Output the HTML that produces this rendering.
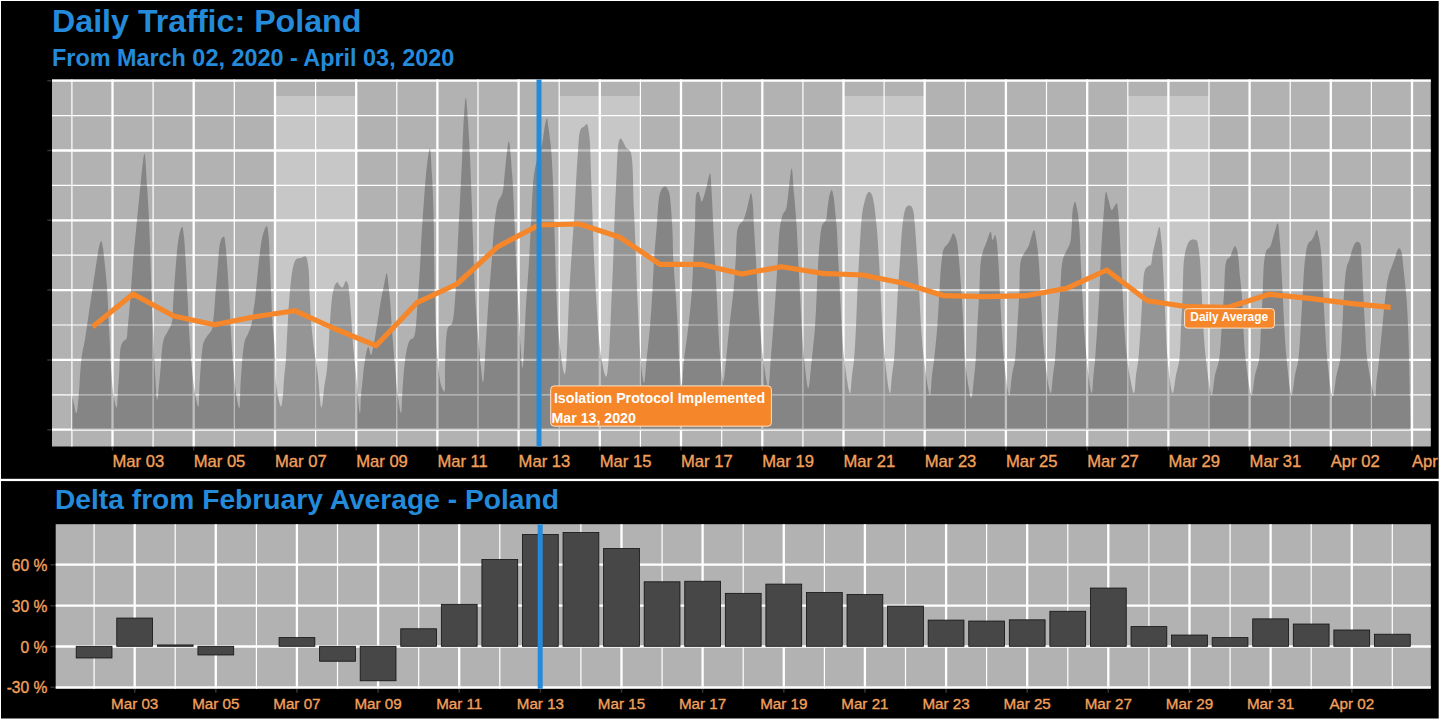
<!DOCTYPE html>
<html><head><meta charset="utf-8"><title>Daily Traffic: Poland</title>
<style>
html,body{margin:0;padding:0;background:#fff;}
body{width:1440px;height:720px;overflow:hidden;position:relative;}
svg{position:absolute;left:0;top:0;display:block;}
text{font-family:"Liberation Sans",sans-serif;}
.ax{stroke:#f2a05c;stroke-width:0.35px;paint-order:stroke;}
</style></head>
<body>
<svg width="1440" height="720" viewBox="0 0 1440 720">
<rect x="0" y="0" width="1440" height="720" fill="#fff"/>
<rect x="1" y="1" width="1437.7" height="477.8" fill="#000"/>
<rect x="1" y="481.1" width="1437.7" height="237.4" fill="#000"/>
<defs><clipPath id="c1"><rect x="1" y="1" width="1437.7" height="477.8"/><rect x="1" y="481.1" width="1437.7" height="237.4"/></clipPath></defs>
<g clip-path="url(#c1)">
<rect x="52" y="79.5" width="1378.8" height="367" fill="#b2b2b2"/>
<line x1="52" x2="1430.8" y1="429.7" y2="429.7" stroke="#fff" stroke-width="2.3"/>
<line x1="52" x2="1430.8" y1="394.8" y2="394.8" stroke="#fff" stroke-width="1.2"/>
<line x1="52" x2="1430.8" y1="359.9" y2="359.9" stroke="#fff" stroke-width="2.3"/>
<line x1="52" x2="1430.8" y1="325.0" y2="325.0" stroke="#fff" stroke-width="1.2"/>
<line x1="52" x2="1430.8" y1="290.1" y2="290.1" stroke="#fff" stroke-width="2.3"/>
<line x1="52" x2="1430.8" y1="255.2" y2="255.2" stroke="#fff" stroke-width="1.2"/>
<line x1="52" x2="1430.8" y1="220.3" y2="220.3" stroke="#fff" stroke-width="2.3"/>
<line x1="52" x2="1430.8" y1="185.4" y2="185.4" stroke="#fff" stroke-width="1.2"/>
<line x1="52" x2="1430.8" y1="150.5" y2="150.5" stroke="#fff" stroke-width="2.3"/>
<line x1="52" x2="1430.8" y1="115.6" y2="115.6" stroke="#fff" stroke-width="1.2"/>
<line x1="52" x2="1430.8" y1="80.7" y2="80.7" stroke="#fff" stroke-width="2.3"/>
<line x1="71.9" x2="71.9" y1="79.5" y2="446.5" stroke="#fff" stroke-width="1.2"/>
<line x1="112.5" x2="112.5" y1="79.5" y2="446.5" stroke="#fff" stroke-width="2.3"/>
<line x1="153.1" x2="153.1" y1="79.5" y2="446.5" stroke="#fff" stroke-width="1.2"/>
<line x1="193.7" x2="193.7" y1="79.5" y2="446.5" stroke="#fff" stroke-width="2.3"/>
<line x1="234.3" x2="234.3" y1="79.5" y2="446.5" stroke="#fff" stroke-width="1.2"/>
<line x1="275.0" x2="275.0" y1="79.5" y2="446.5" stroke="#fff" stroke-width="2.3"/>
<line x1="315.6" x2="315.6" y1="79.5" y2="446.5" stroke="#fff" stroke-width="1.2"/>
<line x1="356.2" x2="356.2" y1="79.5" y2="446.5" stroke="#fff" stroke-width="2.3"/>
<line x1="396.8" x2="396.8" y1="79.5" y2="446.5" stroke="#fff" stroke-width="1.2"/>
<line x1="437.4" x2="437.4" y1="79.5" y2="446.5" stroke="#fff" stroke-width="2.3"/>
<line x1="478.0" x2="478.0" y1="79.5" y2="446.5" stroke="#fff" stroke-width="1.2"/>
<line x1="518.6" x2="518.6" y1="79.5" y2="446.5" stroke="#fff" stroke-width="2.3"/>
<line x1="559.2" x2="559.2" y1="79.5" y2="446.5" stroke="#fff" stroke-width="1.2"/>
<line x1="599.8" x2="599.8" y1="79.5" y2="446.5" stroke="#fff" stroke-width="2.3"/>
<line x1="640.4" x2="640.4" y1="79.5" y2="446.5" stroke="#fff" stroke-width="1.2"/>
<line x1="681.0" x2="681.0" y1="79.5" y2="446.5" stroke="#fff" stroke-width="2.3"/>
<line x1="721.7" x2="721.7" y1="79.5" y2="446.5" stroke="#fff" stroke-width="1.2"/>
<line x1="762.3" x2="762.3" y1="79.5" y2="446.5" stroke="#fff" stroke-width="2.3"/>
<line x1="802.9" x2="802.9" y1="79.5" y2="446.5" stroke="#fff" stroke-width="1.2"/>
<line x1="843.5" x2="843.5" y1="79.5" y2="446.5" stroke="#fff" stroke-width="2.3"/>
<line x1="884.1" x2="884.1" y1="79.5" y2="446.5" stroke="#fff" stroke-width="1.2"/>
<line x1="924.7" x2="924.7" y1="79.5" y2="446.5" stroke="#fff" stroke-width="2.3"/>
<line x1="965.3" x2="965.3" y1="79.5" y2="446.5" stroke="#fff" stroke-width="1.2"/>
<line x1="1005.9" x2="1005.9" y1="79.5" y2="446.5" stroke="#fff" stroke-width="2.3"/>
<line x1="1046.5" x2="1046.5" y1="79.5" y2="446.5" stroke="#fff" stroke-width="1.2"/>
<line x1="1087.2" x2="1087.2" y1="79.5" y2="446.5" stroke="#fff" stroke-width="2.3"/>
<line x1="1127.8" x2="1127.8" y1="79.5" y2="446.5" stroke="#fff" stroke-width="1.2"/>
<line x1="1168.4" x2="1168.4" y1="79.5" y2="446.5" stroke="#fff" stroke-width="2.3"/>
<line x1="1209.0" x2="1209.0" y1="79.5" y2="446.5" stroke="#fff" stroke-width="1.2"/>
<line x1="1249.6" x2="1249.6" y1="79.5" y2="446.5" stroke="#fff" stroke-width="2.3"/>
<line x1="1290.2" x2="1290.2" y1="79.5" y2="446.5" stroke="#fff" stroke-width="1.2"/>
<line x1="1330.8" x2="1330.8" y1="79.5" y2="446.5" stroke="#fff" stroke-width="2.3"/>
<line x1="1371.4" x2="1371.4" y1="79.5" y2="446.5" stroke="#fff" stroke-width="1.2"/>
<line x1="1412.0" x2="1412.0" y1="79.5" y2="446.5" stroke="#fff" stroke-width="2.3"/>
<rect x="275.0" y="96" width="81.2" height="333.7" fill="#fff" fill-opacity="0.28"/>
<rect x="559.2" y="96" width="81.2" height="333.7" fill="#fff" fill-opacity="0.28"/>
<rect x="843.5" y="96" width="81.2" height="333.7" fill="#fff" fill-opacity="0.28"/>
<rect x="1127.8" y="96" width="81.2" height="333.7" fill="#fff" fill-opacity="0.28"/>
<path d="M72,429.7 L72.0,395.0 C72.00,395.00 73.29,400.98 74.00,404.00 C74.72,407.08 75.61,413.34 76.30,413.30 C77.21,413.25 77.95,402.96 78.60,396.70 C79.43,388.63 79.85,376.57 80.50,368.90 C80.96,363.47 81.20,359.62 81.90,355.00 C82.60,350.35 83.75,346.54 84.70,341.10 C86.04,333.44 87.42,322.56 88.80,313.30 C90.18,304.06 91.60,294.84 93.00,285.60 C94.40,276.34 95.96,265.29 97.20,257.80 C98.04,252.71 98.56,247.99 99.50,245.00 C100.04,243.28 100.77,241.05 101.30,241.10 C101.98,241.17 102.55,245.48 103.00,248.00 C103.53,250.97 103.66,253.70 104.10,257.80 C104.84,264.70 106.20,276.33 106.90,285.60 C107.60,294.83 107.83,304.06 108.30,313.30 C108.77,322.56 109.23,331.83 109.70,341.10 C110.17,350.37 110.42,359.64 111.10,368.90 C111.78,378.17 112.56,389.56 113.80,396.70 C114.59,401.27 115.92,407.86 116.60,407.80 C117.45,407.73 117.55,396.11 118.00,390.00 C118.48,383.53 118.95,376.92 119.40,370.00 C119.89,362.53 119.45,351.72 120.80,346.70 C121.50,344.10 122.50,342.44 123.60,341.10 C124.41,340.11 125.63,340.19 126.30,339.00 C127.55,336.78 127.25,331.30 127.70,327.20 C128.19,322.76 128.61,318.73 129.10,313.30 C129.79,305.65 130.60,294.84 131.30,285.60 C132.00,276.34 132.52,267.06 133.30,257.80 C134.08,248.53 135.07,239.44 136.00,230.00 C136.97,220.19 138.05,209.54 139.00,200.00 C139.87,191.29 140.54,182.99 141.50,175.00 C142.39,167.61 143.64,153.67 144.50,153.70 C145.54,153.73 146.28,174.59 147.00,185.00 C147.71,195.35 148.26,204.76 148.80,216.00 C149.45,229.38 150.00,245.50 150.50,260.00 C150.99,274.16 151.28,288.35 151.80,302.00 C152.29,314.99 152.92,327.59 153.50,340.00 C154.06,351.91 154.49,364.32 155.20,375.00 C155.80,384.04 156.58,399.99 157.30,400.00 C157.86,400.01 158.46,390.25 159.00,385.00 C159.60,379.21 160.14,373.06 160.70,366.70 C161.31,359.78 161.60,350.44 162.50,345.00 C163.05,341.65 163.63,339.11 164.50,337.00 C165.13,335.48 165.97,334.59 166.70,333.30 C167.47,331.93 168.22,330.54 169.00,329.00 C169.89,327.24 171.01,325.93 171.70,323.30 C173.02,318.24 172.70,308.46 173.30,300.00 C174.01,289.89 174.81,277.18 175.70,266.70 C176.50,257.30 177.24,246.73 178.30,240.00 C178.96,235.84 179.61,232.39 180.50,230.00 C181.04,228.55 181.81,226.62 182.30,226.70 C183.04,226.82 183.39,231.82 183.80,235.00 C184.35,239.25 184.57,243.54 185.00,250.00 C185.79,261.79 186.94,285.02 187.70,300.00 C188.32,312.22 188.63,322.20 189.30,333.30 C189.97,344.43 190.67,356.24 191.70,366.70 C192.62,376.00 193.66,385.68 195.00,393.00 C195.97,398.34 197.55,406.77 198.30,406.70 C199.24,406.62 199.08,391.92 199.50,385.00 C199.88,378.64 200.26,372.46 200.70,366.70 C201.10,361.53 201.49,356.25 202.00,352.00 C202.39,348.72 202.45,345.94 203.30,343.30 C204.08,340.88 205.35,338.85 206.70,336.70 C208.13,334.41 210.56,332.73 211.70,330.00 C213.07,326.72 212.99,322.41 213.50,318.00 C214.13,312.62 214.43,306.92 215.00,300.00 C215.77,290.59 216.79,276.82 217.70,266.70 C218.46,258.21 218.84,248.28 220.00,243.30 C220.57,240.85 221.11,239.10 222.00,238.00 C222.57,237.29 223.47,236.47 224.00,236.70 C224.99,237.13 225.05,241.57 225.50,245.00 C226.23,250.51 226.73,258.69 227.30,266.70 C228.01,276.61 228.68,288.90 229.30,300.00 C229.92,311.10 230.33,322.19 231.00,333.30 C231.67,344.43 232.41,356.21 233.30,366.70 C234.10,376.08 234.79,385.72 236.00,393.30 C236.92,399.04 238.55,408.36 239.30,408.30 C240.23,408.22 240.07,392.30 240.50,385.00 C240.88,378.53 241.22,372.66 241.70,366.70 C242.16,361.00 242.66,354.85 243.30,350.00 C243.80,346.23 244.05,342.94 245.00,340.00 C245.82,337.48 247.27,335.79 248.30,333.30 C249.53,330.33 250.85,326.92 251.70,323.30 C252.66,319.22 252.91,314.12 253.50,310.00 C254.01,306.43 254.46,304.32 255.00,300.00 C255.98,292.15 257.11,277.18 258.30,266.70 C259.36,257.30 260.46,246.51 261.70,240.00 C262.43,236.18 263.02,233.51 264.00,231.00 C264.77,229.04 265.99,225.89 266.70,226.00 C267.60,226.14 268.03,231.25 268.50,235.00 C269.26,241.09 269.31,250.65 269.70,259.20 C270.14,268.85 270.54,279.50 271.00,290.00 C271.48,300.98 271.81,313.76 272.50,323.70 C273.05,331.62 274.04,338.55 274.50,345.00 C274.88,350.35 275.01,354.47 275.20,359.70 C275.42,365.70 275.23,372.91 275.70,379.00 C276.12,384.51 276.72,389.87 277.70,394.70 C278.56,398.95 280.11,406.55 281.00,406.50 C281.88,406.45 282.51,398.93 283.00,394.70 C283.56,389.85 283.55,384.50 284.00,379.00 C284.49,372.89 285.46,365.70 285.90,359.70 C286.28,354.47 286.32,350.59 286.60,345.00 C286.98,337.56 287.47,327.68 288.00,319.00 C288.53,310.28 288.94,301.54 289.80,292.80 C290.67,284.00 291.55,272.41 293.20,266.40 C294.11,263.09 294.80,260.32 296.40,259.00 C297.62,257.99 299.48,258.41 301.00,258.00 C302.54,257.58 304.44,255.87 305.60,256.50 C307.29,257.41 307.64,262.26 308.30,266.40 C309.36,273.04 309.17,284.02 309.60,292.80 C310.03,301.55 310.25,310.25 310.90,319.00 C311.55,327.82 312.40,336.68 313.50,345.50 C314.60,354.35 316.25,362.51 317.50,372.00 C318.94,382.96 320.21,407.49 321.50,407.50 C322.53,407.51 323.52,391.47 324.50,385.00 C325.25,380.07 326.09,377.11 326.70,372.00 C327.57,364.74 328.02,354.33 328.60,345.50 C329.18,336.67 329.50,327.80 330.20,319.00 C330.90,310.24 331.52,299.16 332.80,292.80 C333.56,289.04 334.44,285.76 335.50,284.00 C336.06,283.08 336.67,282.15 337.30,282.20 C338.15,282.27 339.01,285.09 340.00,286.00 C340.78,286.72 341.71,287.72 342.50,287.50 C343.76,287.15 344.96,281.05 346.00,281.00 C346.73,280.97 347.49,282.66 348.00,284.00 C348.79,286.10 348.80,289.08 349.20,292.80 C349.89,299.20 350.65,310.24 351.30,319.00 C351.95,327.81 352.35,336.67 353.10,345.50 C353.85,354.34 354.80,362.19 355.80,372.00 C357.05,384.25 359.14,413.32 360.00,413.30 C360.57,413.29 360.55,400.42 361.00,395.00 C361.36,390.66 361.78,387.86 362.30,383.30 C363.03,376.86 363.79,366.65 365.00,360.00 C365.92,354.92 367.18,346.74 368.30,346.70 C369.19,346.67 370.16,355.03 371.00,355.00 C371.91,354.97 372.74,348.48 373.50,345.00 C374.32,341.26 374.85,338.20 375.70,333.30 C377.13,325.05 379.40,308.90 381.00,300.00 C382.08,294.00 382.99,289.68 384.00,285.00 C384.89,280.85 385.95,273.27 386.70,273.30 C387.45,273.33 387.97,280.85 388.50,285.00 C389.09,289.68 389.49,294.01 390.00,300.00 C390.75,308.91 391.47,322.19 392.30,333.30 C393.13,344.43 394.00,355.58 395.00,366.70 C396.00,377.81 397.01,391.43 398.30,400.00 C399.12,405.46 400.32,413.35 401.00,413.30 C401.89,413.24 401.95,397.76 402.50,390.00 C403.05,382.23 403.52,373.81 404.30,366.70 C404.97,360.66 405.57,354.81 406.70,350.00 C407.59,346.20 408.45,341.94 410.00,340.00 C410.94,338.82 412.48,339.00 413.30,338.00 C414.23,336.86 414.49,335.63 415.00,333.30 C416.31,327.28 416.87,311.10 417.70,300.00 C418.53,288.90 419.33,277.81 420.00,266.70 C420.67,255.58 421.03,244.42 421.70,233.30 C422.37,222.19 423.13,211.23 424.00,200.00 C424.89,188.47 425.77,174.51 427.00,165.00 C427.86,158.39 429.11,148.26 429.90,148.30 C430.89,148.35 431.43,165.40 432.00,175.00 C432.67,186.21 433.13,198.08 433.50,211.50 C433.96,228.00 434.01,250.61 434.30,266.70 C434.52,279.20 434.72,288.90 435.00,300.00 C435.28,311.10 435.45,322.20 436.00,333.30 C436.55,344.43 437.28,357.25 438.30,366.70 C439.06,373.73 439.59,380.48 441.00,385.00 C441.89,387.87 443.54,391.87 444.30,391.70 C445.68,391.40 444.65,375.63 445.00,366.70 C445.41,356.37 445.71,340.12 446.70,333.30 C447.15,330.22 447.28,328.30 448.30,326.70 C449.12,325.42 450.77,325.64 451.70,324.00 C453.91,320.13 454.18,308.67 455.00,300.00 C455.96,289.83 456.15,277.81 456.70,266.70 C457.25,255.58 457.75,244.42 458.30,233.30 C458.85,222.19 459.41,211.61 460.00,200.00 C460.64,187.28 461.35,173.73 462.00,160.00 C462.69,145.44 463.15,126.51 464.00,115.00 C464.53,107.80 465.19,97.50 465.80,97.50 C466.46,97.50 467.17,109.84 467.80,118.00 C468.72,130.06 469.60,147.75 470.30,162.90 C471.01,178.41 471.44,194.05 472.00,210.00 C472.58,226.47 473.03,243.50 473.70,260.20 C474.37,276.84 475.07,295.13 476.00,310.00 C476.76,322.08 477.71,332.59 478.60,342.80 C479.38,351.76 480.16,360.76 481.00,368.00 C481.64,373.50 482.36,382.52 483.00,382.50 C484.09,382.46 485.10,353.48 486.00,340.00 C486.82,327.77 487.33,317.26 488.20,305.00 C489.17,291.40 490.47,276.33 491.60,262.00 C492.73,247.67 493.59,230.04 495.00,219.00 C495.89,212.02 496.47,206.69 498.00,202.00 C499.16,198.43 501.34,196.58 502.40,193.00 C503.79,188.32 503.67,182.65 504.50,176.00 C505.68,166.53 507.50,141.59 508.80,141.60 C510.10,141.61 511.39,163.88 512.30,176.00 C513.32,189.52 513.77,204.67 514.40,219.00 C515.03,233.33 515.45,247.67 516.10,262.00 C516.75,276.34 517.55,290.93 518.30,305.00 C519.02,318.58 519.66,333.51 520.50,345.00 C521.14,353.73 521.91,368.01 522.60,368.00 C523.75,367.98 524.82,324.00 526.00,305.00 C526.97,289.30 528.13,276.34 529.00,262.00 C529.87,247.67 530.40,233.33 531.20,219.00 C532.00,204.66 532.40,186.83 533.80,176.00 C534.66,169.34 535.75,164.38 537.00,160.00 C537.90,156.83 539.10,154.97 540.00,152.00 C541.08,148.44 542.05,144.02 542.80,140.00 C543.55,136.02 543.77,131.77 544.50,128.00 C545.16,124.58 546.23,118.27 546.90,118.30 C547.56,118.33 547.94,124.14 548.50,128.00 C549.32,133.66 550.42,141.55 551.10,149.00 C551.87,157.42 552.21,165.45 552.70,176.00 C553.39,190.91 553.94,212.35 554.50,230.00 C555.04,246.99 555.35,263.09 556.00,280.00 C556.67,297.41 556.86,316.46 558.50,333.00 C559.96,347.69 563.10,374.48 564.80,374.40 C567.29,374.28 567.99,312.90 569.70,284.50 C571.24,258.90 573.08,234.47 574.50,211.50 C575.77,190.98 576.55,168.43 577.90,153.20 C578.78,143.34 578.57,132.64 580.80,128.90 C581.72,127.36 583.19,127.35 584.20,126.50 C585.13,125.71 586.00,123.80 586.70,124.00 C587.88,124.33 588.44,129.18 589.10,133.80 C590.63,144.43 590.63,166.75 591.50,187.20 C592.67,214.80 593.58,254.42 595.40,284.50 C596.98,310.57 598.57,340.94 601.30,357.40 C602.73,366.01 604.79,376.93 606.20,376.80 C609.23,376.52 610.58,315.68 612.20,284.50 C613.86,252.51 614.26,214.04 616.00,187.20 C617.23,168.20 617.02,139.44 620.40,138.60 C622.05,138.19 624.74,146.22 626.70,148.30 C627.88,149.56 629.13,149.03 630.10,150.80 C633.78,157.52 632.82,188.88 634.00,211.50 C635.49,240.12 636.51,280.50 637.90,308.80 C638.98,330.71 639.79,353.79 641.30,367.10 C642.10,374.09 643.19,383.02 644.00,383.00 C644.97,382.97 645.60,368.37 646.50,360.00 C647.58,349.92 649.03,337.84 650.00,326.70 C650.97,315.51 651.63,304.18 652.30,293.00 C652.96,281.95 653.27,271.02 654.00,260.00 C654.73,248.92 655.70,237.83 656.70,226.70 C657.70,215.50 658.04,199.36 660.00,193.00 C660.84,190.26 661.84,188.53 663.00,187.50 C663.76,186.82 664.74,186.28 665.50,186.50 C666.46,186.78 667.35,188.84 668.00,190.00 C668.57,191.01 668.90,191.41 669.30,193.00 C670.60,198.12 671.63,215.49 672.30,226.70 C672.96,237.82 672.73,248.93 673.30,260.00 C673.87,271.03 674.97,281.94 675.70,293.00 C676.44,304.17 677.10,315.50 677.70,326.70 C678.30,337.83 678.56,349.70 679.30,360.00 C679.94,368.94 680.92,385.00 681.70,385.00 C682.48,385.00 683.01,368.92 684.00,360.00 C685.14,349.68 687.02,337.84 688.30,326.70 C689.59,315.51 690.87,304.19 691.70,293.00 C692.52,281.95 692.75,271.02 693.30,260.00 C693.85,248.92 694.44,237.83 695.00,226.70 C695.57,215.50 694.86,196.63 696.70,193.00 C697.16,192.10 697.83,191.58 698.30,191.70 C699.01,191.88 699.46,194.45 700.00,196.00 C700.61,197.75 701.04,201.67 701.70,201.70 C702.37,201.73 703.25,198.24 704.00,196.00 C705.03,192.96 706.01,188.73 707.00,185.00 C708.01,181.16 709.24,173.24 710.00,173.30 C710.97,173.38 711.20,185.55 711.70,193.00 C712.35,202.73 712.75,215.50 713.30,226.70 C713.85,237.83 714.43,248.93 715.00,260.00 C715.57,271.02 716.15,281.94 716.70,293.00 C717.25,304.17 717.72,315.96 718.30,326.70 C718.83,336.55 719.15,345.72 720.00,355.00 C720.83,364.04 722.25,381.70 723.30,381.70 C724.24,381.70 725.10,368.01 726.00,360.00 C727.11,350.09 728.09,337.83 729.30,326.70 C730.52,315.49 732.23,304.19 733.30,293.00 C734.36,281.95 734.87,271.02 735.70,260.00 C736.54,248.92 735.79,233.38 738.30,226.70 C739.56,223.36 741.94,222.58 743.30,220.00 C744.82,217.10 745.75,213.36 746.70,210.00 C747.64,206.69 748.22,203.03 749.00,200.00 C749.66,197.45 750.41,192.98 751.00,193.00 C751.58,193.02 752.08,196.89 752.50,200.00 C753.31,206.01 753.45,217.31 754.00,226.70 C754.61,237.19 755.38,248.90 756.00,260.00 C756.62,271.10 757.03,282.19 757.70,293.30 C758.37,304.43 759.07,315.58 760.00,326.70 C760.93,337.82 761.81,349.54 763.30,360.00 C764.65,369.42 767.07,386.76 768.30,386.70 C769.53,386.64 769.91,369.39 770.70,360.00 C771.58,349.51 772.47,337.81 773.30,326.70 C774.13,315.58 774.97,304.43 775.70,293.30 C776.43,282.19 776.98,271.10 777.70,260.00 C778.42,248.90 778.66,235.27 780.00,226.70 C780.86,221.19 781.96,216.18 783.30,213.30 C784.03,211.73 785.02,211.64 785.70,210.00 C787.08,206.66 787.57,198.75 788.30,193.30 C788.99,188.10 789.35,182.51 790.00,178.00 C790.52,174.39 791.17,168.28 791.70,168.30 C792.55,168.33 793.23,184.36 794.00,193.30 C794.89,203.63 795.98,215.57 796.70,226.70 C797.42,237.80 797.75,248.90 798.30,260.00 C798.85,271.10 799.43,282.19 800.00,293.30 C800.57,304.42 800.98,315.58 801.70,326.70 C802.42,337.81 803.13,349.37 804.30,360.00 C805.38,369.83 807.07,388.31 808.30,388.30 C809.53,388.29 810.62,369.82 811.70,360.00 C812.87,349.36 814.17,337.82 815.00,326.70 C815.83,315.58 816.15,304.43 816.70,293.30 C817.25,282.19 817.47,271.09 818.30,260.00 C819.13,248.89 820.22,232.02 821.70,226.70 C822.19,224.92 822.62,224.38 823.30,223.30 C824.03,222.14 825.34,221.52 826.00,220.00 C827.01,217.66 826.75,213.75 827.30,210.00 C828.01,205.14 828.89,196.67 830.00,193.30 C830.52,191.72 831.18,189.95 831.70,190.00 C832.38,190.06 833.01,193.55 833.50,196.00 C834.24,199.67 834.49,205.13 835.00,210.00 C835.56,215.32 836.21,220.17 836.70,226.70 C837.39,235.90 837.75,248.90 838.30,260.00 C838.85,271.10 839.43,282.19 840.00,293.30 C840.57,304.42 840.98,315.58 841.70,326.70 C842.42,337.81 842.92,348.93 844.30,360.00 C845.68,371.13 848.67,393.34 850.00,393.30 C850.98,393.27 851.30,380.79 852.00,375.00 C852.64,369.75 853.42,366.00 854.00,360.00 C854.86,351.10 855.45,337.81 856.00,326.70 C856.55,315.58 856.80,304.42 857.30,293.30 C857.80,282.19 858.38,271.10 859.00,260.00 C859.62,248.90 860.26,235.90 861.00,226.70 C861.53,220.18 861.90,214.84 862.70,210.00 C863.32,206.22 864.19,202.89 865.00,200.00 C865.64,197.73 866.10,195.46 867.00,194.00 C867.65,192.95 868.55,191.69 869.30,191.70 C870.05,191.71 870.89,192.96 871.50,194.00 C872.35,195.46 872.72,197.25 873.30,200.00 C874.51,205.69 875.78,217.29 876.70,226.70 C877.73,237.17 878.33,248.90 879.00,260.00 C879.67,271.10 880.15,282.19 880.70,293.30 C881.25,304.42 881.58,315.58 882.30,326.70 C883.02,337.81 883.72,348.92 885.00,360.00 C886.28,371.12 888.77,393.32 890.00,393.30 C890.91,393.28 891.30,380.79 892.00,375.00 C892.64,369.75 893.42,366.00 894.00,360.00 C894.86,351.10 895.38,337.81 896.00,326.70 C896.62,315.58 897.03,304.42 897.70,293.30 C898.37,282.19 899.23,271.10 900.00,260.00 C900.77,248.90 901.24,235.88 902.30,226.70 C903.05,220.16 903.89,213.37 905.00,210.00 C905.52,208.42 905.94,207.46 906.70,206.70 C907.33,206.06 908.20,205.53 909.00,205.50 C909.86,205.47 911.00,205.93 911.70,206.70 C912.67,207.76 913.01,209.76 913.50,212.00 C914.29,215.64 914.50,220.81 915.00,226.70 C915.76,235.56 916.58,248.90 917.30,260.00 C918.02,271.10 918.68,282.19 919.30,293.30 C919.92,304.42 920.22,315.58 921.00,326.70 C921.78,337.82 922.54,348.79 924.00,360.00 C925.51,371.55 928.64,395.05 930.00,395.00 C931.03,394.96 931.28,381.18 932.00,375.00 C932.63,369.64 933.30,365.99 934.00,360.00 C935.04,351.09 936.42,337.82 937.30,326.70 C938.18,315.58 938.57,304.42 939.30,293.30 C940.03,282.19 940.60,268.24 941.70,260.00 C942.36,255.08 942.57,251.25 944.00,248.30 C945.07,246.11 947.12,245.07 948.30,243.30 C949.42,241.62 950.14,239.72 951.00,238.00 C951.80,236.39 952.47,233.30 953.30,233.30 C954.28,233.30 955.65,237.08 956.50,240.00 C957.91,244.81 958.23,252.18 959.00,260.00 C960.09,271.03 961.12,288.29 961.90,300.00 C962.51,309.16 962.92,315.59 963.40,324.50 C963.97,335.17 964.22,350.11 965.00,359.70 C965.55,366.37 966.05,370.65 967.00,376.60 C968.07,383.33 970.11,398.04 971.30,398.00 C972.48,397.96 973.34,383.32 974.10,376.60 C974.77,370.64 975.23,366.27 975.70,359.70 C976.36,350.53 976.70,337.73 977.30,326.70 C977.90,315.60 978.68,304.43 979.30,293.30 C979.92,282.19 979.75,268.22 981.00,260.00 C981.75,255.06 982.90,251.61 984.00,248.30 C984.84,245.75 985.93,243.83 986.70,241.70 C987.41,239.75 987.79,237.74 988.50,236.00 C989.14,234.44 990.07,231.62 990.70,231.70 C991.54,231.80 991.87,239.92 992.70,240.00 C993.36,240.06 994.36,234.96 995.00,235.00 C995.62,235.04 996.07,237.75 996.50,240.00 C997.35,244.42 997.77,252.48 998.30,260.00 C998.98,269.69 999.43,282.19 1000.00,293.30 C1000.57,304.42 1001.03,315.58 1001.70,326.70 C1002.37,337.81 1002.77,348.79 1004.00,360.00 C1005.27,371.55 1007.86,395.01 1009.30,395.00 C1010.39,394.99 1010.97,381.17 1012.00,375.00 C1012.90,369.63 1014.19,366.01 1015.00,360.00 C1016.19,351.11 1016.58,337.81 1017.30,326.70 C1018.02,315.58 1018.68,304.43 1019.30,293.30 C1019.92,282.19 1019.14,267.27 1021.00,260.00 C1021.98,256.18 1023.65,254.08 1025.00,251.70 C1026.09,249.78 1027.37,248.67 1028.30,246.70 C1029.45,244.27 1030.03,240.83 1031.00,238.00 C1031.94,235.26 1033.16,229.95 1034.00,230.00 C1034.82,230.05 1035.45,235.26 1036.00,238.00 C1036.56,240.83 1036.89,243.49 1037.30,246.70 C1037.80,250.66 1038.25,254.56 1038.70,260.00 C1039.41,268.59 1040.10,282.19 1040.70,293.30 C1041.30,304.42 1041.58,315.58 1042.30,326.70 C1043.02,337.81 1043.61,348.93 1045.00,360.00 C1046.40,371.13 1049.30,393.33 1050.70,393.30 C1051.74,393.28 1052.25,380.80 1053.00,375.00 C1053.68,369.75 1054.39,366.00 1055.00,360.00 C1055.90,351.10 1056.47,337.81 1057.30,326.70 C1058.13,315.57 1059.10,304.42 1060.00,293.30 C1060.90,282.19 1060.99,267.31 1062.70,260.00 C1063.58,256.22 1064.80,254.46 1066.00,251.70 C1067.23,248.89 1069.06,246.67 1070.00,243.30 C1071.26,238.79 1071.25,232.25 1071.70,226.70 C1072.15,221.15 1071.94,214.57 1072.70,210.00 C1073.25,206.72 1074.23,201.70 1075.00,201.70 C1075.77,201.70 1076.65,206.73 1077.30,210.00 C1078.20,214.58 1078.77,220.17 1079.30,226.70 C1080.04,235.89 1080.20,248.90 1080.70,260.00 C1081.20,271.10 1081.75,282.19 1082.30,293.30 C1082.85,304.43 1083.27,315.58 1084.00,326.70 C1084.73,337.81 1085.42,348.92 1086.70,360.00 C1087.98,371.12 1090.52,393.33 1091.70,393.30 C1092.57,393.28 1092.93,380.80 1093.50,375.00 C1094.02,369.75 1094.49,365.99 1095.00,360.00 C1095.75,351.09 1096.58,337.81 1097.30,326.70 C1098.02,315.58 1098.73,304.43 1099.30,293.30 C1099.87,282.19 1100.13,271.10 1100.70,260.00 C1101.27,248.90 1102.07,235.90 1102.70,226.70 C1103.15,220.18 1103.47,215.69 1104.00,210.00 C1104.56,204.04 1105.01,191.79 1106.00,191.70 C1106.68,191.64 1107.60,197.11 1108.50,200.00 C1109.49,203.18 1110.50,209.79 1111.70,210.00 C1112.42,210.13 1113.21,208.06 1114.00,207.00 C1114.87,205.84 1116.05,203.15 1116.70,203.30 C1117.50,203.48 1117.63,207.25 1118.00,210.00 C1118.58,214.30 1118.88,220.18 1119.30,226.70 C1119.89,235.90 1120.43,248.90 1121.00,260.00 C1121.57,271.10 1122.15,282.19 1122.70,293.30 C1123.25,304.42 1123.53,315.58 1124.30,326.70 C1125.07,337.82 1125.69,348.94 1127.30,360.00 C1128.92,371.14 1132.53,393.37 1134.00,393.30 C1135.08,393.25 1135.24,380.79 1136.00,375.00 C1136.69,369.74 1137.62,366.00 1138.30,360.00 C1139.30,351.10 1139.97,337.81 1140.70,326.70 C1141.43,315.58 1141.90,303.43 1142.70,293.30 C1143.37,284.83 1143.17,274.41 1145.00,270.00 C1145.86,267.92 1147.18,266.83 1148.30,266.00 C1149.09,265.41 1150.06,265.81 1150.70,265.00 C1152.08,263.27 1151.95,257.04 1152.70,253.30 C1153.40,249.83 1154.21,246.66 1155.00,243.30 C1155.81,239.89 1156.71,236.01 1157.50,233.00 C1158.12,230.64 1158.74,226.66 1159.30,226.70 C1160.20,226.76 1161.13,237.75 1161.70,243.30 C1162.27,248.85 1162.35,253.48 1162.70,260.00 C1163.20,269.20 1163.80,282.19 1164.30,293.30 C1164.80,304.42 1165.13,315.58 1165.70,326.70 C1166.27,337.81 1166.54,348.93 1167.70,360.00 C1168.87,371.13 1171.14,393.28 1172.70,393.30 C1173.86,393.32 1174.84,380.79 1176.00,375.00 C1177.05,369.74 1178.49,366.02 1179.30,360.00 C1180.49,351.12 1180.43,337.81 1181.00,326.70 C1181.57,315.58 1182.20,304.43 1182.70,293.30 C1183.20,282.19 1182.97,268.56 1184.00,260.00 C1184.66,254.53 1185.43,250.23 1186.70,246.70 C1187.61,244.16 1188.60,241.63 1190.00,240.50 C1191.01,239.68 1192.36,239.49 1193.50,239.50 C1194.59,239.51 1195.92,239.68 1196.70,240.50 C1197.78,241.63 1197.82,244.23 1198.30,246.70 C1198.99,250.28 1199.51,254.56 1200.00,260.00 C1200.77,268.59 1201.15,282.19 1201.70,293.30 C1202.25,304.42 1202.58,315.58 1203.30,326.70 C1204.02,337.81 1204.63,348.79 1206.00,360.00 C1207.41,371.55 1210.05,395.00 1211.70,395.00 C1212.94,395.00 1213.67,381.16 1215.00,375.00 C1216.16,369.61 1217.96,366.04 1219.00,360.00 C1220.53,351.14 1220.87,337.81 1221.70,326.70 C1222.53,315.58 1223.17,304.42 1224.00,293.30 C1224.83,282.19 1224.25,264.97 1226.70,260.00 C1227.59,258.18 1229.08,258.35 1230.00,257.00 C1231.20,255.25 1231.76,251.98 1232.70,250.00 C1233.44,248.45 1234.28,245.98 1235.00,246.00 C1235.71,246.02 1236.47,248.45 1237.00,250.00 C1237.65,251.91 1237.90,253.86 1238.30,256.70 C1238.98,261.57 1239.40,270.35 1240.00,276.70 C1240.54,282.49 1241.21,286.80 1241.70,293.30 C1242.39,302.50 1242.63,315.58 1243.30,326.70 C1243.97,337.81 1244.34,348.80 1245.70,360.00 C1247.10,371.56 1250.01,395.01 1251.70,395.00 C1252.98,395.00 1253.67,381.16 1255.00,375.00 C1256.16,369.61 1258.02,366.04 1259.00,360.00 C1260.43,351.14 1260.38,337.81 1261.00,326.70 C1261.62,315.58 1262.15,304.43 1262.70,293.30 C1263.25,282.19 1263.18,267.82 1264.30,260.00 C1264.92,255.66 1265.40,252.32 1266.70,250.00 C1267.57,248.44 1269.05,248.25 1270.00,246.70 C1271.43,244.38 1272.34,239.82 1273.30,236.70 C1274.14,233.97 1274.71,231.36 1275.50,229.00 C1276.19,226.94 1277.08,223.22 1277.70,223.30 C1278.83,223.44 1279.44,236.93 1280.00,243.30 C1280.51,249.11 1280.64,253.48 1281.00,260.00 C1281.51,269.20 1282.15,282.19 1282.70,293.30 C1283.25,304.42 1283.63,315.58 1284.30,326.70 C1284.97,337.81 1285.50,348.78 1286.70,360.00 C1287.94,371.54 1290.16,394.98 1291.70,395.00 C1292.87,395.01 1293.81,381.17 1295.00,375.00 C1296.03,369.63 1297.43,366.02 1298.30,360.00 C1299.59,351.12 1299.97,337.81 1300.70,326.70 C1301.43,315.58 1301.98,304.42 1302.70,293.30 C1303.42,282.19 1303.78,269.17 1305.00,260.00 C1305.87,253.45 1306.51,246.59 1308.30,243.30 C1309.24,241.57 1310.75,241.23 1311.70,240.00 C1312.64,238.79 1313.24,237.49 1314.00,236.00 C1314.91,234.22 1315.94,229.95 1316.70,230.00 C1317.44,230.05 1317.97,233.89 1318.50,236.00 C1319.08,238.30 1319.55,240.36 1320.00,243.30 C1320.68,247.72 1321.21,253.47 1321.70,260.00 C1322.39,269.20 1322.75,282.19 1323.30,293.30 C1323.85,304.43 1324.33,315.58 1325.00,326.70 C1325.67,337.81 1326.08,348.65 1327.30,360.00 C1328.59,371.96 1330.99,396.68 1332.70,396.70 C1334.02,396.72 1335.16,381.55 1336.50,375.00 C1337.62,369.52 1339.09,366.03 1340.00,360.00 C1341.33,351.13 1341.63,337.81 1342.30,326.70 C1342.97,315.58 1343.20,303.79 1344.00,293.30 C1344.71,283.92 1345.29,272.56 1346.70,266.70 C1347.43,263.66 1348.39,262.63 1349.30,260.00 C1350.56,256.34 1351.74,249.98 1353.30,246.70 C1354.33,244.53 1355.41,242.04 1356.70,241.70 C1357.70,241.43 1359.17,242.11 1360.00,243.30 C1361.78,245.85 1361.21,253.47 1361.70,260.00 C1362.39,269.20 1362.75,282.19 1363.30,293.30 C1363.85,304.43 1364.33,315.58 1365.00,326.70 C1365.67,337.81 1365.73,348.69 1367.30,360.00 C1368.96,371.99 1373.52,396.79 1375.00,396.70 C1375.99,396.64 1375.91,385.24 1376.50,380.00 C1377.03,375.31 1377.65,372.14 1378.30,366.70 C1379.32,358.09 1380.58,344.43 1381.70,333.30 C1382.82,322.19 1383.78,310.10 1385.00,300.00 C1386.02,291.53 1386.85,282.80 1388.30,276.70 C1389.27,272.62 1390.55,269.91 1391.70,266.70 C1392.78,263.69 1394.01,260.85 1395.00,258.00 C1395.94,255.29 1396.49,251.61 1397.50,250.00 C1398.05,249.12 1398.72,248.22 1399.30,248.30 C1400.07,248.41 1400.91,250.27 1401.50,252.00 C1402.59,255.20 1402.64,260.81 1403.30,266.70 C1404.29,275.56 1405.87,288.89 1406.70,300.00 C1407.53,311.09 1407.87,322.19 1408.30,333.30 C1408.73,344.42 1409.02,355.57 1409.30,366.70 C1409.58,377.81 1410.00,400.00 1410.00,400.00 L1410.3,429.7 L1410.3,429.7 Z" fill="#000" fill-opacity="0.25"/>
<path d="M92.7,326.7 L133.0,294.0 L173.7,316.0 L214.3,324.7 L254.7,316.7 L294.7,310.7 L335.3,329.0 L376.0,345.7 L417.0,302.7 L457.0,284.0 L497.7,246.7 L539.0,225.0 L579.3,224.0 L620.0,237.3 L660.0,264.3 L700.7,264.3 L741.7,274.0 L781.7,266.7 L821.7,273.3 L862.7,275.0 L903.3,283.3 L944.0,295.7 L985.7,296.7 L1026.0,295.7 L1066.7,288.3 L1106.7,270.0 L1147.3,300.7 L1187.3,306.7 L1228.3,307.3 L1269.3,294.3 L1309.3,298.3 L1350.0,303.3 L1390.7,307.3" fill="none" stroke="#f5862a" stroke-width="5.2" stroke-linejoin="round"/>
<line x1="47.3" x2="51.3" y1="429.7" y2="429.7" stroke="#333" stroke-width="1.5"/>
<line x1="47.3" x2="51.3" y1="359.9" y2="359.9" stroke="#333" stroke-width="1.5"/>
<line x1="47.3" x2="51.3" y1="290.1" y2="290.1" stroke="#333" stroke-width="1.5"/>
<line x1="47.3" x2="51.3" y1="220.3" y2="220.3" stroke="#333" stroke-width="1.5"/>
<line x1="47.3" x2="51.3" y1="150.5" y2="150.5" stroke="#333" stroke-width="1.5"/>
<line x1="47.3" x2="51.3" y1="80.7" y2="80.7" stroke="#333" stroke-width="1.5"/>
<line x1="112.5" x2="112.5" y1="446.5" y2="450.5" stroke="#333" stroke-width="1.5"/>
<line x1="193.7" x2="193.7" y1="446.5" y2="450.5" stroke="#333" stroke-width="1.5"/>
<line x1="275.0" x2="275.0" y1="446.5" y2="450.5" stroke="#333" stroke-width="1.5"/>
<line x1="356.2" x2="356.2" y1="446.5" y2="450.5" stroke="#333" stroke-width="1.5"/>
<line x1="437.4" x2="437.4" y1="446.5" y2="450.5" stroke="#333" stroke-width="1.5"/>
<line x1="518.6" x2="518.6" y1="446.5" y2="450.5" stroke="#333" stroke-width="1.5"/>
<line x1="599.8" x2="599.8" y1="446.5" y2="450.5" stroke="#333" stroke-width="1.5"/>
<line x1="681.0" x2="681.0" y1="446.5" y2="450.5" stroke="#333" stroke-width="1.5"/>
<line x1="762.3" x2="762.3" y1="446.5" y2="450.5" stroke="#333" stroke-width="1.5"/>
<line x1="843.5" x2="843.5" y1="446.5" y2="450.5" stroke="#333" stroke-width="1.5"/>
<line x1="924.7" x2="924.7" y1="446.5" y2="450.5" stroke="#333" stroke-width="1.5"/>
<line x1="1005.9" x2="1005.9" y1="446.5" y2="450.5" stroke="#333" stroke-width="1.5"/>
<line x1="1087.2" x2="1087.2" y1="446.5" y2="450.5" stroke="#333" stroke-width="1.5"/>
<line x1="1168.4" x2="1168.4" y1="446.5" y2="450.5" stroke="#333" stroke-width="1.5"/>
<line x1="1249.6" x2="1249.6" y1="446.5" y2="450.5" stroke="#333" stroke-width="1.5"/>
<line x1="1330.8" x2="1330.8" y1="446.5" y2="450.5" stroke="#333" stroke-width="1.5"/>
<line x1="1412.0" x2="1412.0" y1="446.5" y2="450.5" stroke="#333" stroke-width="1.5"/>
<text x="112.5" y="467.4" font-size="16.6" class="ax" fill="#f2a05c">Mar 03</text>
<text x="193.7" y="467.4" font-size="16.6" class="ax" fill="#f2a05c">Mar 05</text>
<text x="275.0" y="467.4" font-size="16.6" class="ax" fill="#f2a05c">Mar 07</text>
<text x="356.2" y="467.4" font-size="16.6" class="ax" fill="#f2a05c">Mar 09</text>
<text x="437.4" y="467.4" font-size="16.6" class="ax" fill="#f2a05c">Mar 11</text>
<text x="518.6" y="467.4" font-size="16.6" class="ax" fill="#f2a05c">Mar 13</text>
<text x="599.8" y="467.4" font-size="16.6" class="ax" fill="#f2a05c">Mar 15</text>
<text x="681.0" y="467.4" font-size="16.6" class="ax" fill="#f2a05c">Mar 17</text>
<text x="762.3" y="467.4" font-size="16.6" class="ax" fill="#f2a05c">Mar 19</text>
<text x="843.5" y="467.4" font-size="16.6" class="ax" fill="#f2a05c">Mar 21</text>
<text x="924.7" y="467.4" font-size="16.6" class="ax" fill="#f2a05c">Mar 23</text>
<text x="1005.9" y="467.4" font-size="16.6" class="ax" fill="#f2a05c">Mar 25</text>
<text x="1087.2" y="467.4" font-size="16.6" class="ax" fill="#f2a05c">Mar 27</text>
<text x="1168.4" y="467.4" font-size="16.6" class="ax" fill="#f2a05c">Mar 29</text>
<text x="1249.6" y="467.4" font-size="16.6" class="ax" fill="#f2a05c">Mar 31</text>
<text x="1330.8" y="467.4" font-size="16.6" class="ax" fill="#f2a05c">Apr 02</text>
<text x="1412.0" y="467.4" font-size="16.6" class="ax" fill="#f2a05c">Apr 04</text>
<rect x="55.7" y="524.2" width="1375.1" height="164.6" fill="#b2b2b2"/>
<line x1="55.7" x2="1430.8" y1="564.7" y2="564.7" stroke="#fff" stroke-width="2.3"/>
<line x1="55.7" x2="1430.8" y1="605.7" y2="605.7" stroke="#fff" stroke-width="2.3"/>
<line x1="55.7" x2="1430.8" y1="646.5" y2="646.5" stroke="#fff" stroke-width="2.3"/>
<line x1="55.7" x2="1430.8" y1="687.3" y2="687.3" stroke="#fff" stroke-width="2.3"/>
<line x1="94.1" x2="94.1" y1="524.2" y2="688.8" stroke="#fff" stroke-width="1.2"/>
<line x1="134.7" x2="134.7" y1="524.2" y2="688.8" stroke="#fff" stroke-width="2.3"/>
<line x1="175.2" x2="175.2" y1="524.2" y2="688.8" stroke="#fff" stroke-width="1.2"/>
<line x1="215.8" x2="215.8" y1="524.2" y2="688.8" stroke="#fff" stroke-width="2.3"/>
<line x1="256.4" x2="256.4" y1="524.2" y2="688.8" stroke="#fff" stroke-width="1.2"/>
<line x1="296.9" x2="296.9" y1="524.2" y2="688.8" stroke="#fff" stroke-width="2.3"/>
<line x1="337.5" x2="337.5" y1="524.2" y2="688.8" stroke="#fff" stroke-width="1.2"/>
<line x1="378.1" x2="378.1" y1="524.2" y2="688.8" stroke="#fff" stroke-width="2.3"/>
<line x1="418.7" x2="418.7" y1="524.2" y2="688.8" stroke="#fff" stroke-width="1.2"/>
<line x1="459.2" x2="459.2" y1="524.2" y2="688.8" stroke="#fff" stroke-width="2.3"/>
<line x1="499.8" x2="499.8" y1="524.2" y2="688.8" stroke="#fff" stroke-width="1.2"/>
<line x1="540.4" x2="540.4" y1="524.2" y2="688.8" stroke="#fff" stroke-width="2.3"/>
<line x1="580.9" x2="580.9" y1="524.2" y2="688.8" stroke="#fff" stroke-width="1.2"/>
<line x1="621.5" x2="621.5" y1="524.2" y2="688.8" stroke="#fff" stroke-width="2.3"/>
<line x1="662.1" x2="662.1" y1="524.2" y2="688.8" stroke="#fff" stroke-width="1.2"/>
<line x1="702.6" x2="702.6" y1="524.2" y2="688.8" stroke="#fff" stroke-width="2.3"/>
<line x1="743.2" x2="743.2" y1="524.2" y2="688.8" stroke="#fff" stroke-width="1.2"/>
<line x1="783.8" x2="783.8" y1="524.2" y2="688.8" stroke="#fff" stroke-width="2.3"/>
<line x1="824.4" x2="824.4" y1="524.2" y2="688.8" stroke="#fff" stroke-width="1.2"/>
<line x1="864.9" x2="864.9" y1="524.2" y2="688.8" stroke="#fff" stroke-width="2.3"/>
<line x1="905.5" x2="905.5" y1="524.2" y2="688.8" stroke="#fff" stroke-width="1.2"/>
<line x1="946.1" x2="946.1" y1="524.2" y2="688.8" stroke="#fff" stroke-width="2.3"/>
<line x1="986.6" x2="986.6" y1="524.2" y2="688.8" stroke="#fff" stroke-width="1.2"/>
<line x1="1027.2" x2="1027.2" y1="524.2" y2="688.8" stroke="#fff" stroke-width="2.3"/>
<line x1="1067.8" x2="1067.8" y1="524.2" y2="688.8" stroke="#fff" stroke-width="1.2"/>
<line x1="1108.3" x2="1108.3" y1="524.2" y2="688.8" stroke="#fff" stroke-width="2.3"/>
<line x1="1148.9" x2="1148.9" y1="524.2" y2="688.8" stroke="#fff" stroke-width="1.2"/>
<line x1="1189.5" x2="1189.5" y1="524.2" y2="688.8" stroke="#fff" stroke-width="2.3"/>
<line x1="1230.1" x2="1230.1" y1="524.2" y2="688.8" stroke="#fff" stroke-width="1.2"/>
<line x1="1270.6" x2="1270.6" y1="524.2" y2="688.8" stroke="#fff" stroke-width="2.3"/>
<line x1="1311.2" x2="1311.2" y1="524.2" y2="688.8" stroke="#fff" stroke-width="1.2"/>
<line x1="1351.8" x2="1351.8" y1="524.2" y2="688.8" stroke="#fff" stroke-width="2.3"/>
<line x1="1392.3" x2="1392.3" y1="524.2" y2="688.8" stroke="#fff" stroke-width="1.2"/>
<rect x="76.20" y="646.30" width="35.8" height="11.68" fill="#474747" stroke="#111" stroke-width="0.8"/>
<rect x="116.77" y="618.05" width="35.8" height="28.25" fill="#474747" stroke="#111" stroke-width="0.8"/>
<rect x="157.34" y="644.94" width="35.8" height="1.36" fill="#474747" stroke="#111" stroke-width="0.8"/>
<rect x="197.91" y="646.30" width="35.8" height="8.69" fill="#474747" stroke="#111" stroke-width="0.8"/>
<rect x="279.05" y="637.61" width="35.8" height="8.69" fill="#474747" stroke="#111" stroke-width="0.8"/>
<rect x="319.62" y="646.30" width="35.8" height="14.94" fill="#474747" stroke="#111" stroke-width="0.8"/>
<rect x="360.19" y="646.30" width="35.8" height="34.49" fill="#474747" stroke="#111" stroke-width="0.8"/>
<rect x="400.76" y="628.78" width="35.8" height="17.52" fill="#474747" stroke="#111" stroke-width="0.8"/>
<rect x="441.33" y="604.34" width="35.8" height="41.96" fill="#474747" stroke="#111" stroke-width="0.8"/>
<rect x="481.90" y="559.52" width="35.8" height="86.78" fill="#474747" stroke="#111" stroke-width="0.8"/>
<rect x="522.47" y="534.54" width="35.8" height="111.76" fill="#474747" stroke="#111" stroke-width="0.8"/>
<rect x="563.04" y="532.50" width="35.8" height="113.80" fill="#474747" stroke="#111" stroke-width="0.8"/>
<rect x="603.61" y="548.52" width="35.8" height="97.78" fill="#474747" stroke="#111" stroke-width="0.8"/>
<rect x="644.18" y="581.79" width="35.8" height="64.51" fill="#474747" stroke="#111" stroke-width="0.8"/>
<rect x="684.75" y="581.25" width="35.8" height="65.05" fill="#474747" stroke="#111" stroke-width="0.8"/>
<rect x="725.32" y="593.34" width="35.8" height="52.96" fill="#474747" stroke="#111" stroke-width="0.8"/>
<rect x="765.89" y="584.10" width="35.8" height="62.20" fill="#474747" stroke="#111" stroke-width="0.8"/>
<rect x="806.46" y="592.52" width="35.8" height="53.78" fill="#474747" stroke="#111" stroke-width="0.8"/>
<rect x="847.03" y="594.56" width="35.8" height="51.74" fill="#474747" stroke="#111" stroke-width="0.8"/>
<rect x="887.60" y="606.10" width="35.8" height="40.20" fill="#474747" stroke="#111" stroke-width="0.8"/>
<rect x="928.17" y="620.09" width="35.8" height="26.21" fill="#474747" stroke="#111" stroke-width="0.8"/>
<rect x="968.74" y="621.04" width="35.8" height="25.26" fill="#474747" stroke="#111" stroke-width="0.8"/>
<rect x="1009.31" y="619.82" width="35.8" height="26.48" fill="#474747" stroke="#111" stroke-width="0.8"/>
<rect x="1049.88" y="611.26" width="35.8" height="35.04" fill="#474747" stroke="#111" stroke-width="0.8"/>
<rect x="1090.45" y="588.04" width="35.8" height="58.26" fill="#474747" stroke="#111" stroke-width="0.8"/>
<rect x="1131.02" y="626.61" width="35.8" height="19.69" fill="#474747" stroke="#111" stroke-width="0.8"/>
<rect x="1171.59" y="635.03" width="35.8" height="11.27" fill="#474747" stroke="#111" stroke-width="0.8"/>
<rect x="1212.16" y="637.61" width="35.8" height="8.69" fill="#474747" stroke="#111" stroke-width="0.8"/>
<rect x="1252.73" y="618.87" width="35.8" height="27.43" fill="#474747" stroke="#111" stroke-width="0.8"/>
<rect x="1293.30" y="624.03" width="35.8" height="22.27" fill="#474747" stroke="#111" stroke-width="0.8"/>
<rect x="1333.87" y="630.00" width="35.8" height="16.30" fill="#474747" stroke="#111" stroke-width="0.8"/>
<rect x="1374.44" y="634.21" width="35.8" height="12.09" fill="#474747" stroke="#111" stroke-width="0.8"/>
<line x1="50.5" x2="54.5" y1="564.7" y2="564.7" stroke="#333" stroke-width="1.5"/>
<line x1="50.5" x2="54.5" y1="605.7" y2="605.7" stroke="#333" stroke-width="1.5"/>
<line x1="50.5" x2="54.5" y1="646.5" y2="646.5" stroke="#333" stroke-width="1.5"/>
<line x1="50.5" x2="54.5" y1="687.3" y2="687.3" stroke="#333" stroke-width="1.5"/>
<line x1="134.7" x2="134.7" y1="688.8" y2="692.8" stroke="#333" stroke-width="1.5"/>
<line x1="215.8" x2="215.8" y1="688.8" y2="692.8" stroke="#333" stroke-width="1.5"/>
<line x1="296.9" x2="296.9" y1="688.8" y2="692.8" stroke="#333" stroke-width="1.5"/>
<line x1="378.1" x2="378.1" y1="688.8" y2="692.8" stroke="#333" stroke-width="1.5"/>
<line x1="459.2" x2="459.2" y1="688.8" y2="692.8" stroke="#333" stroke-width="1.5"/>
<line x1="540.4" x2="540.4" y1="688.8" y2="692.8" stroke="#333" stroke-width="1.5"/>
<line x1="621.5" x2="621.5" y1="688.8" y2="692.8" stroke="#333" stroke-width="1.5"/>
<line x1="702.6" x2="702.6" y1="688.8" y2="692.8" stroke="#333" stroke-width="1.5"/>
<line x1="783.8" x2="783.8" y1="688.8" y2="692.8" stroke="#333" stroke-width="1.5"/>
<line x1="864.9" x2="864.9" y1="688.8" y2="692.8" stroke="#333" stroke-width="1.5"/>
<line x1="946.1" x2="946.1" y1="688.8" y2="692.8" stroke="#333" stroke-width="1.5"/>
<line x1="1027.2" x2="1027.2" y1="688.8" y2="692.8" stroke="#333" stroke-width="1.5"/>
<line x1="1108.3" x2="1108.3" y1="688.8" y2="692.8" stroke="#333" stroke-width="1.5"/>
<line x1="1189.5" x2="1189.5" y1="688.8" y2="692.8" stroke="#333" stroke-width="1.5"/>
<line x1="1270.6" x2="1270.6" y1="688.8" y2="692.8" stroke="#333" stroke-width="1.5"/>
<line x1="1351.8" x2="1351.8" y1="688.8" y2="692.8" stroke="#333" stroke-width="1.5"/>
<text x="47.4" y="570.7" font-size="15.6" class="ax" fill="#f2a05c" text-anchor="end">60 %</text>
<text x="47.4" y="611.7" font-size="15.6" class="ax" fill="#f2a05c" text-anchor="end">30 %</text>
<text x="47.4" y="652.5" font-size="15.6" class="ax" fill="#f2a05c" text-anchor="end">0 %</text>
<text x="47.4" y="693.3" font-size="15.6" class="ax" fill="#f2a05c" text-anchor="end">-30 %</text>
<text x="134.7" y="709.2" font-size="15.2" class="ax" fill="#f2a05c" text-anchor="middle">Mar 03</text>
<text x="215.8" y="709.2" font-size="15.2" class="ax" fill="#f2a05c" text-anchor="middle">Mar 05</text>
<text x="296.9" y="709.2" font-size="15.2" class="ax" fill="#f2a05c" text-anchor="middle">Mar 07</text>
<text x="378.1" y="709.2" font-size="15.2" class="ax" fill="#f2a05c" text-anchor="middle">Mar 09</text>
<text x="459.2" y="709.2" font-size="15.2" class="ax" fill="#f2a05c" text-anchor="middle">Mar 11</text>
<text x="540.4" y="709.2" font-size="15.2" class="ax" fill="#f2a05c" text-anchor="middle">Mar 13</text>
<text x="621.5" y="709.2" font-size="15.2" class="ax" fill="#f2a05c" text-anchor="middle">Mar 15</text>
<text x="702.6" y="709.2" font-size="15.2" class="ax" fill="#f2a05c" text-anchor="middle">Mar 17</text>
<text x="783.8" y="709.2" font-size="15.2" class="ax" fill="#f2a05c" text-anchor="middle">Mar 19</text>
<text x="864.9" y="709.2" font-size="15.2" class="ax" fill="#f2a05c" text-anchor="middle">Mar 21</text>
<text x="946.1" y="709.2" font-size="15.2" class="ax" fill="#f2a05c" text-anchor="middle">Mar 23</text>
<text x="1027.2" y="709.2" font-size="15.2" class="ax" fill="#f2a05c" text-anchor="middle">Mar 25</text>
<text x="1108.3" y="709.2" font-size="15.2" class="ax" fill="#f2a05c" text-anchor="middle">Mar 27</text>
<text x="1189.5" y="709.2" font-size="15.2" class="ax" fill="#f2a05c" text-anchor="middle">Mar 29</text>
<text x="1270.6" y="709.2" font-size="15.2" class="ax" fill="#f2a05c" text-anchor="middle">Mar 31</text>
<text x="1351.8" y="709.2" font-size="15.2" class="ax" fill="#f2a05c" text-anchor="middle">Apr 02</text>
<line x1="539.0" x2="539.0" y1="79.5" y2="446.5" stroke="#248bdb" stroke-width="5.0"/>
<line x1="540.2" x2="540.2" y1="524.2" y2="688.8" stroke="#248bdb" stroke-width="5.0"/>
<rect x="550.7" y="385.9" width="220.7" height="40.3" rx="3.5" fill="#f5862a" stroke="#fde3c8" stroke-width="1"/>
<text x="553.9" y="402.7" font-size="14.2" font-weight="bold" fill="#fff">Isolation Protocol Implemented</text>
<text x="551.5" y="423.0" font-size="14.2" font-weight="bold" fill="#fff">Mar 13, 2020</text>
<rect x="1184.6" y="308.7" width="89.8" height="19.4" rx="3" fill="#f5862a" stroke="#fde3c8" stroke-width="1"/>
<text x="1190.3" y="320.8" font-size="11.9" font-weight="bold" fill="#fff">Daily Average</text>
<text x="52" y="32.2" font-size="32.2" font-weight="bold" fill="#248bdb">Daily Traffic: Poland</text>
<text x="52" y="65.8" font-size="23.4" font-weight="bold" fill="#248bdb">From March 02, 2020 - April 03, 2020</text>
<text x="55" y="509.4" font-size="28.2" font-weight="bold" fill="#248bdb">Delta from February Average - Poland</text>
</g>
</svg>
</body></html>
